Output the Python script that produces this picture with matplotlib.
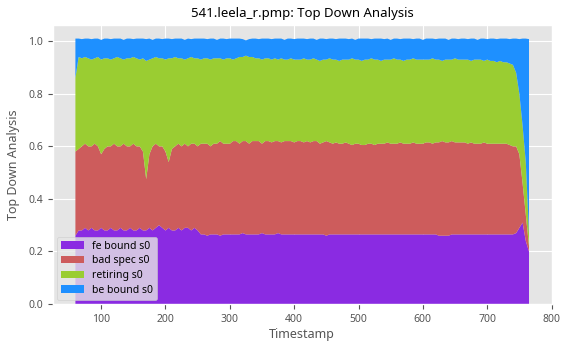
import numpy as np
import matplotlib.pyplot as plt

plt.style.use('ggplot')
plt.rcParams['font.family'] = ['Noto Sans', 'DejaVu Sans']

# timestamps, one sample every 5 units
timestamps = np.arange(60, 766, 5)

# upper edge of each stacked band
fe_top = [
    0.26, 0.28, 0.28, 0.29, 0.28, 0.29, 0.28, 0.28, 0.29, 0.28,
    0.28, 0.29, 0.28, 0.28, 0.29, 0.28, 0.28, 0.29, 0.28, 0.28,
    0.29, 0.28, 0.28, 0.29, 0.28, 0.29, 0.30, 0.29, 0.28, 0.29,
    0.28, 0.28, 0.29, 0.28, 0.29, 0.29, 0.28, 0.29, 0.28, 0.265,
    0.265, 0.26, 0.265, 0.265, 0.265, 0.26, 0.265, 0.265, 0.265, 0.265,
    0.265, 0.265, 0.27, 0.265, 0.265, 0.265, 0.265, 0.265, 0.27, 0.265,
    0.265, 0.265, 0.265, 0.27, 0.265, 0.265, 0.265, 0.265, 0.265, 0.265,
    0.265, 0.265, 0.265, 0.265, 0.265, 0.265, 0.265, 0.265, 0.26, 0.265,
    0.265, 0.265, 0.265, 0.265, 0.265, 0.265, 0.265, 0.265, 0.265, 0.265,
    0.265, 0.265, 0.265, 0.265, 0.265, 0.265, 0.265, 0.265, 0.265, 0.265,
    0.265, 0.265, 0.265, 0.265, 0.265, 0.265, 0.265, 0.265, 0.265, 0.265,
    0.265, 0.265, 0.265, 0.26, 0.26, 0.26, 0.26, 0.265, 0.265, 0.265,
    0.265, 0.265, 0.265, 0.265, 0.265, 0.265, 0.265, 0.265, 0.265, 0.265,
    0.265, 0.265, 0.265, 0.265, 0.265, 0.265, 0.265, 0.27, 0.29, 0.31,
    0.24, 0.20,
]
bad_top = [
    0.58, 0.59, 0.60, 0.61, 0.60, 0.60, 0.61, 0.60, 0.57, 0.59,
    0.60, 0.60, 0.61, 0.60, 0.60, 0.61, 0.60, 0.60, 0.61, 0.60,
    0.60, 0.58, 0.475, 0.57, 0.60, 0.61, 0.60, 0.60, 0.58, 0.54,
    0.59, 0.60, 0.61, 0.60, 0.61, 0.60, 0.61, 0.61, 0.60, 0.61,
    0.61, 0.61, 0.60, 0.61, 0.61, 0.62, 0.61, 0.61, 0.61, 0.62,
    0.62, 0.61, 0.62, 0.62, 0.61, 0.62, 0.62, 0.62, 0.61, 0.62,
    0.62, 0.615, 0.62, 0.62, 0.615, 0.62, 0.62, 0.62, 0.615, 0.62,
    0.62, 0.615, 0.62, 0.615, 0.62, 0.62, 0.61, 0.615, 0.62, 0.615,
    0.61, 0.615, 0.61, 0.61, 0.615, 0.61, 0.605, 0.61, 0.61, 0.605,
    0.605, 0.61, 0.61, 0.605, 0.61, 0.61, 0.61, 0.615, 0.61, 0.61,
    0.61, 0.615, 0.61, 0.61, 0.61, 0.615, 0.61, 0.61, 0.61, 0.615,
    0.615, 0.61, 0.615, 0.615, 0.62, 0.615, 0.615, 0.62, 0.615, 0.615,
    0.615, 0.615, 0.61, 0.615, 0.61, 0.61, 0.61, 0.615, 0.61, 0.61,
    0.61, 0.61, 0.61, 0.61, 0.61, 0.605, 0.60, 0.60, 0.57, 0.46,
    0.34, 0.22,
]
retiring_top = [
    0.86, 0.94, 0.935, 0.94, 0.935, 0.93, 0.935, 0.94, 0.93, 0.935,
    0.935, 0.93, 0.935, 0.94, 0.935, 0.93, 0.935, 0.935, 0.94, 0.935,
    0.93, 0.935, 0.925, 0.93, 0.935, 0.94, 0.935, 0.935, 0.93, 0.935,
    0.935, 0.94, 0.935, 0.935, 0.93, 0.935, 0.94, 0.935, 0.935, 0.93,
    0.935, 0.935, 0.93, 0.935, 0.935, 0.935, 0.93, 0.935, 0.935, 0.93,
    0.935, 0.94, 0.94, 0.945, 0.94, 0.94, 0.935, 0.935, 0.93, 0.935,
    0.935, 0.93, 0.935, 0.93, 0.935, 0.93, 0.93, 0.935, 0.93, 0.93,
    0.93, 0.935, 0.93, 0.93, 0.935, 0.93, 0.925, 0.93, 0.93, 0.935,
    0.93, 0.93, 0.925, 0.93, 0.93, 0.93, 0.935, 0.93, 0.93, 0.925,
    0.93, 0.93, 0.935, 0.93, 0.93, 0.925, 0.93, 0.93, 0.93, 0.935,
    0.93, 0.93, 0.925, 0.93, 0.93, 0.935, 0.93, 0.93, 0.93, 0.93,
    0.93, 0.935, 0.93, 0.93, 0.925, 0.93, 0.93, 0.93, 0.935, 0.93,
    0.93, 0.93, 0.93, 0.925, 0.93, 0.93, 0.93, 0.925, 0.93, 0.925,
    0.925, 0.92, 0.925, 0.92, 0.92, 0.915, 0.91, 0.88, 0.80, 0.68,
    0.54, 0.27,
]
be_top = [
    1.01, 1.01, 1.008, 1.01, 1.01, 1.008, 1.01, 1.01, 1.005, 1.01,
    1.01, 1.008, 1.01, 1.01, 1.01, 1.005, 1.01, 1.01, 1.008, 1.01,
    1.01, 1.01, 1.008, 1.01, 1.005, 1.01, 1.01, 1.008, 1.01, 1.01,
    1.008, 1.01, 1.01, 1.01, 1.005, 1.01, 1.008, 1.01, 1.01, 1.01,
    1.01, 1.008, 1.01, 1.01, 1.005, 1.01, 1.01, 1.008, 1.01, 1.01,
    1.01, 1.01, 1.008, 1.003, 1.008, 1.01, 1.01, 1.008, 1.01, 1.01,
    1.01, 1.008, 1.01, 1.01, 1.01, 1.005, 1.01, 1.01, 1.008, 1.01,
    1.01, 1.01, 1.008, 1.01, 1.01, 1.005, 1.01, 1.01, 1.008, 1.01,
    1.01, 1.008, 1.01, 1.01, 1.01, 1.008, 1.01, 1.005, 1.01, 1.01,
    1.01, 1.01, 1.008, 1.01, 1.01, 1.01, 1.008, 1.01, 1.005, 1.01,
    1.01, 1.008, 1.01, 1.01, 1.01, 1.008, 1.01, 1.01, 1.005, 1.01,
    1.01, 1.01, 1.008, 1.01, 1.01, 1.01, 1.005, 1.01, 1.01, 1.008,
    1.01, 1.01, 1.008, 1.01, 1.01, 1.005, 1.01, 1.01, 1.008, 1.01,
    1.01, 1.008, 1.01, 1.01, 1.01, 1.008, 1.01, 1.01, 1.008, 1.01,
    1.01, 1.008,
]

labels = ['fe bound s0', 'bad spec s0', 'retiring s0', 'be bound s0']
colors = ['#8A2BE2', '#CD5C5C', '#9ACD32', '#1E90FF']

tops = np.array([fe_top, bad_top, retiring_top, be_top])
shares = np.diff(np.vstack([np.zeros(len(timestamps)), tops]), axis=0)

fig = plt.figure(figsize=(5.67, 3.42), dpi=100)
ax = fig.add_axes([0.093, 0.111, 0.88, 0.815])
ax.stackplot(timestamps, shares, labels=labels, colors=colors)

ax.set_title('541.leela_r.pmp: Top Down Analysis', fontsize=9.5, color='black')
ax.set_xlabel('Timestamp', fontsize=9, color='#555555', labelpad=2)
ax.set_ylabel('Top Down Analysis', fontsize=9, color='#555555', labelpad=6)
ax.tick_params(labelsize=7.5)
ax.set_xticks([100, 200, 300, 400, 500, 600, 700, 800])
ax.legend(loc='lower left', fontsize=7.5, handlelength=2.2,
          borderaxespad=0.4, labelspacing=0.35)

fig.savefig('out.png', dpi=100)
